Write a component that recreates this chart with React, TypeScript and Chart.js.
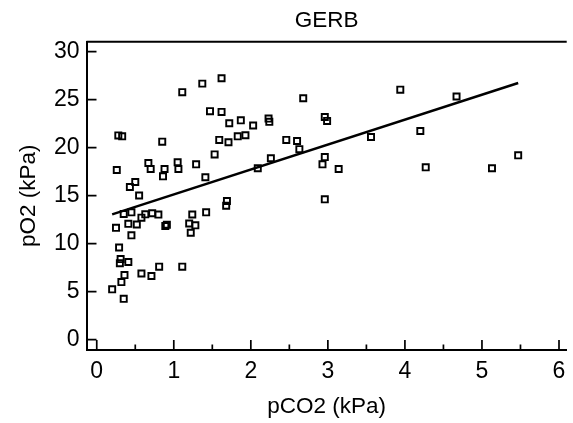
import React, { useEffect, useRef } from 'react';
import { Chart, registerables } from 'chart.js';

Chart.register(...registerables);

const chartTitle = 'GERB';
const xAxisTitle = 'pCO2 (kPa)';
const yAxisTitle = 'pO2 (kPa)';

const pco2 = [
  0.26, 0.67, 0.70, 0.88, 0.86, 1.05, 1.06, 1.29, 1.41, 0.50,
  0.43, 0.55, 0.35, 0.45, 0.58, 0.63, 0.72, 0.80, 0.25, 0.41,
  0.52, 0.45, 0.89, 0.91, 1.24, 1.42, 1.20, 1.28, 1.22, 0.29,
  0.31, 0.30, 0.41, 0.81, 1.11, 0.36, 0.58, 0.71, 0.32, 0.20,
  0.35, 1.11, 1.37, 1.62, 2.68, 1.47, 1.62, 1.72, 1.87, 2.03,
  2.23, 2.24, 0.85, 1.59, 1.71, 1.83, 1.93, 2.46, 2.60, 2.63,
  1.53, 2.26, 2.09, 0.28, 0.33, 1.69, 1.68, 2.96, 2.99, 3.94,
  4.67, 4.20, 3.56, 4.27, 5.13, 5.47, 3.14, 2.93, 2.96, 2.96,
];
const po2 = [
  17.67, 18.40, 17.77, 17.77, 17.01, 18.48, 17.77, 18.26, 16.91, 16.42,
  15.90, 15.01, 13.08, 13.26, 12.70, 13.05, 13.16, 13.02, 11.64, 12.06,
  11.99, 10.86, 11.83, 11.97, 13.03, 13.26, 12.09, 11.90, 11.13, 9.59,
  8.39, 7.95, 8.08, 7.59, 7.59, 6.72, 6.88, 6.62, 5.99, 5.23,
  4.24, 25.78, 26.67, 27.23, 25.15, 23.80, 23.72, 22.54, 22.85, 22.31,
  23.03, 22.69, 20.62, 20.80, 20.56, 21.18, 21.29, 20.80, 20.69, 19.84,
  19.29, 18.89, 17.85, 21.27, 21.18, 14.44, 13.95, 23.19, 22.78, 26.04,
  25.33, 21.73, 21.11, 17.95, 17.85, 19.20, 17.77, 18.26, 19.02, 14.61,
];

const fitX = [0.2, 5.47];
const fitY = [13.05, 26.74];

const xTicks = [0, 1, 2, 3, 4, 5, 6];
const xMinorTicks = [0.5, 1.5, 2.5, 3.5, 4.5, 5.5];
const yTicks = [0, 5, 10, 15, 20, 25, 30];

const FONT = "'Liberation Sans', Arial, sans-serif";

const frameTicks = {
  id: 'frameTicks',
  afterDraw(chart: any) {
    const { ctx, chartArea } = chart;
    const xs = chart.scales.x;
    const ys = chart.scales.y;
    ctx.save();
    ctx.strokeStyle = '#000';
    ctx.lineWidth = 2;
    ctx.beginPath();
    ctx.moveTo(chartArea.left, chartArea.top);
    ctx.lineTo(chartArea.right, chartArea.top);
    ctx.stroke();
    ctx.lineWidth = 1.7;
    ctx.beginPath();
    yTicks.forEach((v) => {
      const p = ys.getPixelForValue(v);
      ctx.moveTo(chartArea.left, p);
      ctx.lineTo(chartArea.left + 10, p);
    });
    xTicks.forEach((v) => {
      const p = xs.getPixelForValue(v);
      ctx.moveTo(p, chartArea.bottom);
      ctx.lineTo(p, chartArea.bottom - 10);
    });
    xMinorTicks.forEach((v) => {
      const p = xs.getPixelForValue(v);
      ctx.moveTo(p, chartArea.bottom);
      ctx.lineTo(p, chartArea.bottom - 5.5);
    });
    ctx.stroke();
    ctx.restore();
  },
};

export default function App() {
  const ref = useRef<HTMLCanvasElement>(null);
  useEffect(() => {
    if (!ref.current) return;
    const chart = new Chart(ref.current, {
      type: 'scatter',
      data: {
        datasets: [
          {
            label: 'data',
            data: pco2.map((x, i) => ({ x, y: po2[i] })),
            pointStyle: 'rect',
            pointRadius: 4.3,
            borderColor: '#000',
            backgroundColor: 'rgba(0,0,0,0)',
            borderWidth: 1.9,
          },
          {
            label: 'fit',
            data: fitX.map((x, i) => ({ x, y: fitY[i] })),
            showLine: true,
            pointRadius: 0,
            borderColor: '#000',
            borderWidth: 2.5,
          } as any,
        ],
      },
      options: {
        animation: false,
        responsive: false,
        layout: { padding: 0 },
        plugins: {
          legend: { display: false },
          tooltip: { enabled: false },
          title: {
            display: true,
            text: chartTitle,
            fullSize: false,
            color: '#000',
            font: { family: FONT, size: 22.5, weight: 'normal' },
            padding: { top: 7.3, bottom: 7.4 },
          },
        },
        scales: {
          x: {
            type: 'linear',
            min: -0.133,
            max: 6.1,
            afterFit: (s: any) => { s.height = 73; },
            afterBuildTicks: (s: any) => { s.ticks = xTicks.map((v) => ({ value: v })); },
            grid: { display: false, drawTicks: false },
            border: { display: true, color: '#000', width: 2 },
            ticks: {
              padding: 7.5,
              color: '#000',
              font: { family: FONT, size: 23 },
              maxRotation: 0,
              callback: (v: any) => String(v),
            },
            title: {
              display: true,
              text: xAxisTitle,
              color: '#000',
              font: { family: FONT, size: 22.5 },
              padding: { top: 0, bottom: 3.2 },
            },
          },
          y: {
            type: 'linear',
            min: -1.09,
            max: 31.04,
            afterFit: (s: any) => { s.width = 86.5; },
            afterBuildTicks: (s: any) => { s.ticks = yTicks.map((v) => ({ value: v })); },
            grid: { display: false, drawTicks: false },
            border: { display: true, color: '#000', width: 2 },
            ticks: {
              padding: 7,
              color: '#000',
              font: { family: FONT, size: 23 },
              callback: (v: any) => String(v),
            },
            title: {
              display: true,
              text: yAxisTitle,
              color: '#000',
              font: { family: FONT, size: 22.5 },
              padding: { top: 15.5, bottom: 0 },
            },
          },
        },
      },
      plugins: [frameTicks],
    });
    return () => chart.destroy();
  }, []);
  return (
    <div style={{ position: 'absolute', left: 0, top: 0, width: 573, height: 423, background: '#fff' }}>
      <canvas ref={ref} width={573} height={423} style={{ width: 573, height: 423 }} />
    </div>
  );
}
